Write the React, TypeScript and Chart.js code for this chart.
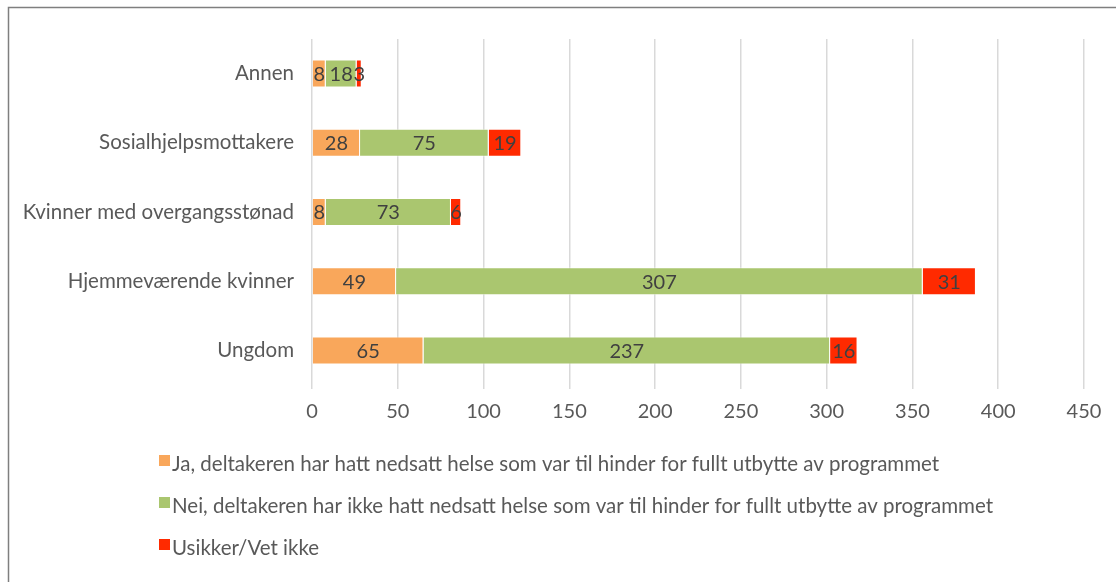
import React, { useEffect, useRef } from "react";
import { Chart, registerables } from "chart.js";

Chart.register(...registerables);

const categories = [
  "Annen",
  "Sosialhjelpsmottakere",
  "Kvinner med overgangsstønad",
  "Hjemmeværende kvinner",
  "Ungdom",
];
const seriesNames = [
  "Ja, deltakeren har hatt nedsatt helse som var til hinder for fullt utbytte av programmet",
  "Nei, deltakeren har ikke hatt nedsatt helse som var til hinder for fullt utbytte av programmet",
  "Usikker/Vet ikke",
];
const jaValues = [8, 28, 8, 49, 65];
const neiValues = [18, 75, 73, 307, 237];
const usikkerValues = [3, 19, 6, 31, 16];
const xTicks = [0, 50, 100, 150, 200, 250, 300, 350, 400, 450];

const COLORS = ["#F9A75B", "#AAC66F", "#FF2A00"];
const FONT = "Lato, 'Open Sans', sans-serif";

const dataLabelPlugin = {
  id: "dataLabels",
  afterDatasetsDraw(chart: any) {
    const ctx = chart.ctx;
    ctx.save();
    ctx.font = `20px ${FONT}`;
    ctx.fillStyle = "#404040";
    ctx.textAlign = "center";
    ctx.textBaseline = "middle";
    chart.data.datasets.forEach((ds: any, i: number) => {
      const meta = chart.getDatasetMeta(i);
      meta.data.forEach((el: any, j: number) => {
        const p = el.getCenterPoint();
        ctx.fillText(String(ds.data[j]), p.x, p.y + 1);
      });
    });
    ctx.restore();
  },
};

const legendPlugin = {
  id: "customLegend",
  afterDraw(chart: any) {
    const ctx = chart.ctx;
    ctx.save();
    ctx.font = `20.5px ${FONT}`;
    ctx.textAlign = "left";
    ctx.textBaseline = "middle";
    chart.data.datasets.forEach((ds: any, i: number) => {
      const y = 455 + i * 42;
      ctx.fillStyle = ds.backgroundColor;
      ctx.fillRect(159, y, 11, 11);
      ctx.fillStyle = "#595959";
      ctx.fillText(ds.label, 172, y + 9);
    });
    ctx.restore();
  },
};

const frame = {
  id: "frame",
  afterDraw(chart: any) {
    const ctx = chart.ctx;
    ctx.save();
    ctx.strokeStyle = "#7F7F7F";
    ctx.lineWidth = 1.5;
    ctx.beginPath();
    ctx.moveTo(8.5, 600);
    ctx.lineTo(8.5, 7.5);
    ctx.lineTo(1200, 7.5);
    ctx.stroke();
    ctx.restore();
  },
};

export default function App() {
  const ref = useRef<HTMLCanvasElement>(null);
  useEffect(() => {
    if (!ref.current) return;
    const chart = new Chart(ref.current, {
      type: "bar",
      data: {
        labels: categories,
        datasets: [jaValues, neiValues, usikkerValues].map((d, i) => ({
          label: seriesNames[i],
          data: d,
          backgroundColor: COLORS[i],
          borderColor: "rgba(255,255,255,0.5)",
          borderWidth: 1,
          categoryPercentage: 1,
          barPercentage: 0.405,
        })),
      },
      options: {
        indexAxis: "y",
        animation: false,
        responsive: false,
        layout: { padding: { left: 0, top: 39, right: 32, bottom: 157 } },
        plugins: {
          legend: { display: false },
          tooltip: { enabled: false },
        },
        scales: {
          x: {
            stacked: true,
            min: 0,
            max: 450,
            afterBuildTicks: (s: any) => {
              s.ticks = xTicks.map((v) => ({ value: v }));
            },
            afterFit: (s: any) => {
              s.height = 40;
            },
            grid: { color: "#D9D9D9", lineWidth: 1.5, tickLength: 4 },
            border: { display: false },
            ticks: {
              color: "#595959",
              font: { family: FONT, size: 20 },
              padding: 11,
            },
          },
          y: {
            stacked: true,
            afterFit: (s: any) => {
              s.width = 312;
            },
            grid: { display: false },
            border: { display: false },
            ticks: {
              color: "#595959",
              font: { family: FONT, size: 20.5 },
              padding: 10,
            },
          },
        },
      },
      plugins: [dataLabelPlugin, legendPlugin, frame],
    } as any);
    return () => chart.destroy();
  }, []);
  return (
    <div style={{ position: "fixed", left: 0, top: 0, width: 1116, height: 582, background: "#fff" }}>
      <canvas ref={ref} width={1116} height={582} style={{ display: "block" }} />
    </div>
  );
}
